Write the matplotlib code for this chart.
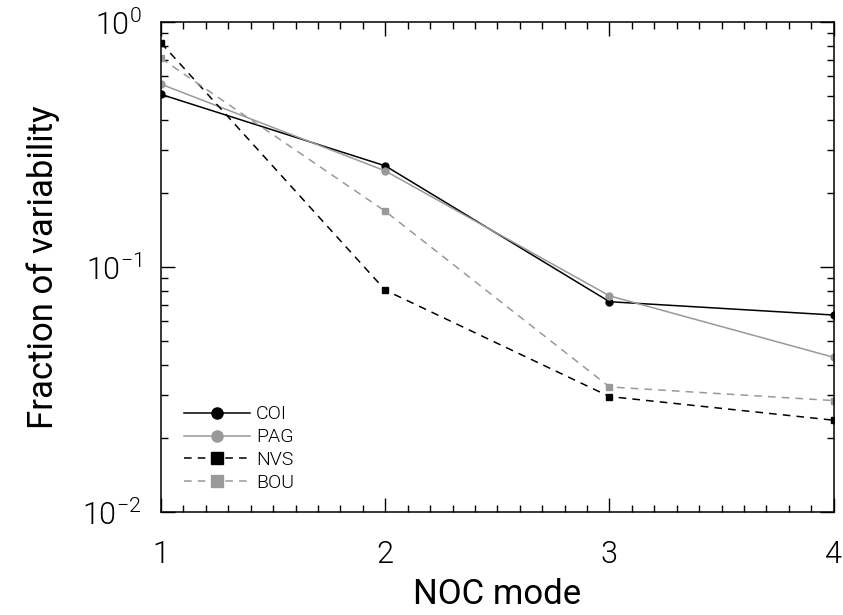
import matplotlib
matplotlib.use("Agg")
import matplotlib.pyplot as plt
import numpy as np
from matplotlib.ticker import FixedLocator, LogLocator, NullFormatter

modes = [1, 2, 3, 4]
coi = [0.507, 0.259, 0.0722, 0.0637]
pag = [0.558, 0.247, 0.0763, 0.0428]
nvs = [0.823, 0.0805, 0.0296, 0.0237]
bou = [0.711, 0.169, 0.0324, 0.0285]

plt.rcParams['font.family'] = ['Roboto', 'DejaVu Sans']
plt.rcParams['font.weight'] = 300
plt.rcParams['mathtext.fontset'] = 'custom'
plt.rcParams['mathtext.rm'] = 'Roboto:light'
plt.rcParams['mathtext.default'] = 'rm'

fig = plt.figure(figsize=(8.43, 6.15), dpi=100)
ax = fig.add_axes([0.191, 0.1675, 0.798, 0.7965])

gray = '#999999'
ax.plot(modes, coi, '-', color='black', lw=1.1, marker='o', ms=5, label='COI')
ax.plot(modes, pag, '-', color=gray, lw=1.1, marker='o', ms=5, label='PAG')
ax.plot(modes, nvs, '--', color='black', lw=1.1, marker='s', ms=5, dashes=(5, 4), label='NVS')
ax.plot(modes, bou, '--', color=gray, lw=1.1, marker='s', ms=5, dashes=(5, 4), label='BOU')

ax.set_yscale('log')
ax.set_xlim(1, 4)
ax.set_ylim(0.01, 1.0)
ax.xaxis.set_major_locator(FixedLocator([1, 2, 3, 4]))
ax.xaxis.set_minor_locator(FixedLocator(np.arange(1, 4.01, 0.1)))
ax.yaxis.set_major_locator(LogLocator(base=10, numticks=5))
ax.yaxis.set_minor_locator(LogLocator(base=10, subs=np.arange(2, 10), numticks=20))
ax.yaxis.set_minor_formatter(NullFormatter())

ax.tick_params(which='both', direction='in', top=True, right=True, width=1)
ax.tick_params(which='major', length=10, labelsize=22)
ax.tick_params(axis='x', which='major', pad=20)
ax.tick_params(axis='y', which='major', pad=14)
ax.tick_params(which='minor', length=5)
for s in ax.spines.values():
    s.set_linewidth(1.1)

ax.set_xlabel('NOC mode', fontsize=25, labelpad=7)
ax.set_ylabel('Fraction of variability', fontsize=25, labelpad=16)

leg = ax.legend(loc='lower left', bbox_to_anchor=(0.008, 0.005), frameon=False,
                fontsize=14, handlelength=3.4, handletextpad=0.3,
                labelspacing=0.25, markerscale=1.6)

fig.savefig('out.png', dpi=100)
